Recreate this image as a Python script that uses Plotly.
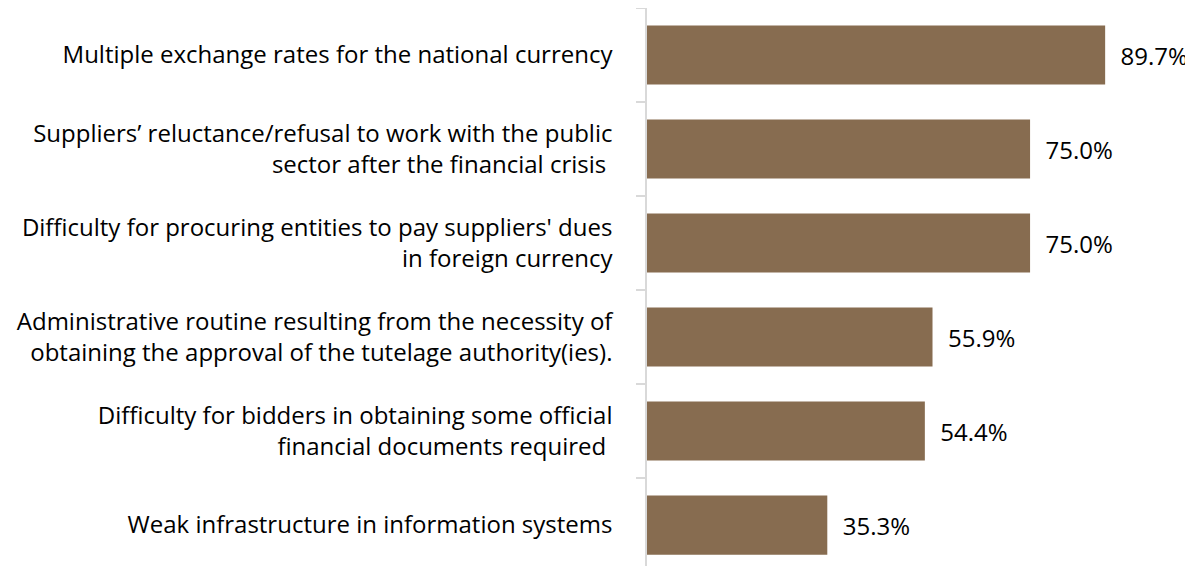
import plotly.graph_objects as go

categories = [
    "Multiple exchange rates for the national currency",
    "Suppliers’ reluctance/refusal to work with the public<br>sector after the financial crisis ",
    "Difficulty for procuring entities to pay suppliers' dues<br>in foreign currency",
    "Administrative routine resulting from the necessity of<br>obtaining the approval of the tutelage authority(ies).",
    "Difficulty for bidders in obtaining some official<br>financial documents required ",
    "Weak infrastructure in information systems",
]
values = [89.7, 75.0, 75.0, 55.9, 54.4, 35.3]
labels = ["\u00a0\u00a0%.1f%%" % v for v in values]

FONT = "Open Sans"
SIZE = 24

fig = go.Figure(
    go.Bar(
        y=categories,
        x=values,
        orientation="h",
        marker=dict(color="#876C50", line=dict(width=0)),
        width=0.63,
        text=labels,
        textposition="outside",
        textfont=dict(family=FONT, size=SIZE, color="#000000"),
        cliponaxis=False,
        constraintext="none",
    )
)

fig.update_layout(
    width=1193,
    height=566,
    margin=dict(l=639, r=8, t=0, b=8),
    paper_bgcolor="white",
    plot_bgcolor="white",
    font=dict(family=FONT, size=SIZE, color="#000000"),
    showlegend=False,
    xaxis=dict(
        range=[0, 106.9],
        visible=False,
        showgrid=False,
        zeroline=False,
    ),
    yaxis=dict(
        type="category",
        range=[5.436, -0.5],
        showline=True,
        linecolor="#D9D9D9",
        linewidth=1.5,
        ticks="outside",
        ticklen=9,
        tickcolor="#D9D9D9",
        tickwidth=1.5,
        tickson="boundaries",
        showgrid=False,
        ticklabelstandoff=28,
        tickfont=dict(family=FONT, size=SIZE, color="#000000"),
    ),
)

fig.write_html("out.html")
